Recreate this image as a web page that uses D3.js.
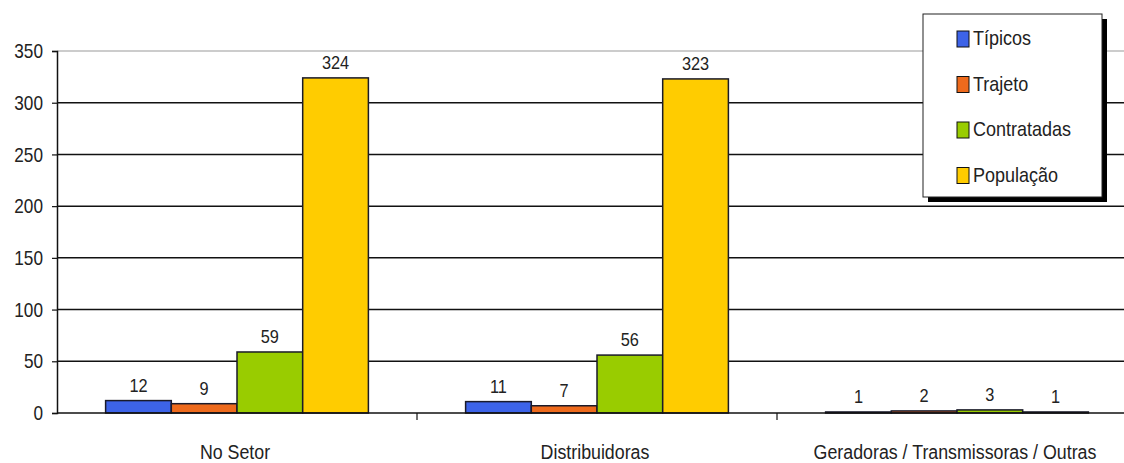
<!DOCTYPE html>
<html>
<head>
<meta charset="utf-8">
<script src="https://cdn.jsdelivr.net/npm/d3@7"></script>
<style>
  html, body { margin: 0; padding: 0; background: #fff; }
  svg { display: block; }
  text { font-family: "Liberation Sans", Arial, sans-serif; fill: #222; }
</style>
</head>
<body>
<svg id="chart" width="1124" height="463"></svg>
<script>
// chart data
var categories = ["No Setor", "Distribuidoras", "Geradoras / Transmissoras / Outras"];
var seriesNames = ["Típicos", "Trajeto", "Contratadas", "População"];
var seriesColors = ["#3D63E8", "#EE6A1C", "#99CC00", "#FFCC00"];
var tipicos = [12, 11, 1];
var trajeto = [9, 7, 2];
var contratadas = [59, 56, 3];
var populacao = [324, 323, 1];
var yTicks = [0, 50, 100, 150, 200, 250, 300, 350];

var seriesValues = [tipicos, trajeto, contratadas, populacao];

var cfg = {
	left: 57,
	right: 1137,
	top: 51,
	bottom: 413
};

var svg = d3.select("#chart");

// put a text at (x,y) and squeeze it, the original uses a narrow face
function narrow(sel, fx, fy, sx) {
	sel.attr("x", 0).attr("y", 0)
		.attr("transform", function(d, i) {
			return "translate(" + fx(d, i) + "," + fy(d, i) + ") scale(" + (sx || 0.86) + ",1)";
		});
	return sel;
}

var x0 = d3.scaleBand().domain(categories).range([cfg.left, cfg.right]).padding(0);
var x1 = d3.scaleBand().domain(seriesNames)
	.range([0, x0.bandwidth()])
	.paddingInner(0)
	.paddingOuter(0.74);
var y = d3.scaleLinear().domain([0, 350]).range([cfg.bottom, cfg.top]);

// gridlines
svg.append("g").selectAll("line")
	.data(yTicks.filter(function(d) { return d > 0; }))
	.enter().append("line")
	.attr("x1", cfg.left).attr("x2", cfg.right)
	.attr("y1", function(d) { return y(d); })
	.attr("y2", function(d) { return y(d); })
	.attr("stroke", function(d) { return d === 350 ? "#999" : "#111"; })
	.attr("stroke-width", function(d) { return d === 350 ? 1 : 1.5; });

// y axis
var yAxis = d3.axisLeft(y).tickValues(yTicks).tickSize(5).tickFormat("");
var gy = svg.append("g").attr("transform", "translate(" + cfg.left + ",0)").call(yAxis);
gy.select(".domain").attr("stroke", "#111").attr("stroke-width", 1.5);
gy.selectAll(".tick line").attr("stroke", "#111").attr("stroke-width", 1.2);

svg.append("g").selectAll("text")
	.data(yTicks).enter().append("text")
	.attr("text-anchor", "end")
	.attr("font-size", 20)
	.attr("dy", "0.36em")
	.text(function(d) { return d; })
	.call(narrow, function() { return 43; }, function(d) { return y(d); });

// bars
var flat = [];
categories.forEach(function(c, ci) {
	seriesNames.forEach(function(s, si) {
		flat.push({ cat: c, series: s, si: si, value: seriesValues[si][ci] });
	});
});

var bars = svg.append("g").selectAll("g.bar")
	.data(flat).enter().append("g").attr("class", "bar");

bars.append("rect")
	.attr("x", function(d) { return x0(d.cat) + x1(d.series); })
	.attr("width", x1.bandwidth())
	.attr("y", function(d) { return y(d.value); })
	.attr("height", function(d) { return y(0) - y(d.value); })
	.attr("fill", function(d) { return seriesColors[d.si]; })
	.attr("stroke", "#1a1a2a")
	.attr("stroke-width", 1.5);

bars.append("text")
	.attr("text-anchor", "middle")
	.attr("font-size", 19)
	.text(function(d) { return d.value; })
	.call(narrow,
		function(d) { return x0(d.cat) + x1(d.series) + x1.bandwidth() / 2; },
		function(d) { return y(d.value) - 9; });

// x axis
svg.append("line")
	.attr("x1", cfg.left).attr("x2", cfg.right)
	.attr("y1", cfg.bottom).attr("y2", cfg.bottom)
	.attr("stroke", "#111").attr("stroke-width", 1.5);

svg.append("g").selectAll("line")
	.data(categories.slice(1))
	.enter().append("line")
	.attr("x1", function(d) { return x0(d); })
	.attr("x2", function(d) { return x0(d); })
	.attr("y1", cfg.bottom).attr("y2", cfg.bottom + 7)
	.attr("stroke", "#111").attr("stroke-width", 1.2);

svg.append("g").selectAll("text")
	.data(categories)
	.enter().append("text")
	.attr("text-anchor", "middle")
	.attr("font-size", 20)
	.text(function(d) { return d; })
	.call(narrow,
		function(d) { return x0(d) + x0.bandwidth() / 2 - 2; },
		function() { return 459; }, 0.89);

// legend
var legend = svg.append("g").attr("transform", "translate(923,14)");
legend.append("rect")
	.attr("x", 5).attr("y", 5).attr("width", 179).attr("height", 183)
	.attr("fill", "#000");
legend.append("rect")
	.attr("x", 0).attr("y", 0).attr("width", 179).attr("height", 183)
	.attr("fill", "#fff").attr("stroke", "#222").attr("stroke-width", 1);

var items = legend.selectAll("g.item")
	.data(seriesNames).enter().append("g")
	.attr("class", "item")
	.attr("transform", function(d, i) { return "translate(34," + (25 + i * 45.5) + ")"; });
items.append("rect")
	.attr("x", 0).attr("y", -8).attr("width", 12).attr("height", 16)
	.attr("fill", function(d, i) { return seriesColors[i]; })
	.attr("stroke", "#111").attr("stroke-width", 1);
items.append("text")
	.attr("font-size", 20)
	.text(function(d) { return d; })
	.call(narrow, function() { return 16; }, function() { return 6; }, 0.9);
</script>
</body>
</html>
